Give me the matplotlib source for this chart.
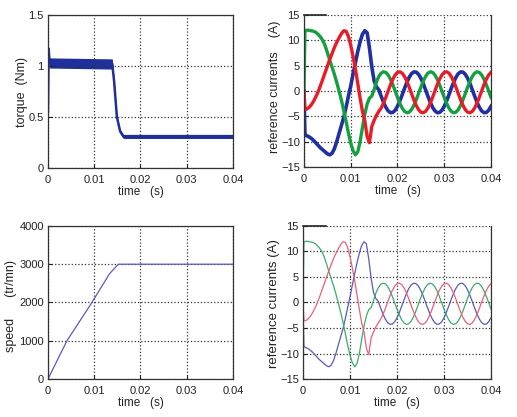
import numpy as np
import matplotlib
matplotlib.use("Agg")
import matplotlib.pyplot as plt

plt.rcParams['font.family'] = ['Liberation Sans', 'DejaVu Sans']

# Zeitachse in ms (0, 0.2, dann 0.5 ms Raster bis 40 ms)
t_ms = np.r_[0.0, 0.2, np.arange(0.5, 40.01, 0.5)]

# Referenzströme (A)
i_green = [0.0, 11.8,
           12.0, 12.0, 11.9, 11.8, 11.6, 11.2, 10.7, 10.0, 9.0, 7.6,
           6.1, 4.7, 3.3, 1.7, 0.0, -1.8, -3.8, -6.0, -8.3, -10.3,
           -11.8, -12.6, -12.0, -10.0, -7.2, -4.6, -2.6, -1.4, -1.0, 0.3, 1.8,
           2.87, 3.52, 3.79, 3.67, 3.17, 2.33, 1.24, 0.00, -1.26, -2.42,
           -3.37, -4.02, -4.29, -4.17, -3.67, -2.83, -1.74, -0.50, 0.76, 1.92,
           2.87, 3.52, 3.79, 3.67, 3.17, 2.33, 1.24, 0.00, -1.26, -2.42,
           -3.37, -4.02, -4.29, -4.17, -3.67, -2.83, -1.74, -0.50, 0.76, 1.92,
           2.87, 3.52, 3.79, 3.67, 3.17, 2.33, 1.24, 0.00, -1.26]
i_red = [0.0, -3.5,
         -3.6, -3.3, -2.8, -2.1, -1.2, -0.2, 1.0, 2.3, 3.6, 4.9,
         6.2, 7.4, 8.6, 9.6, 10.5, 11.3, 11.9, 11.8, 10.8, 9.0,
         6.8, 4.3, 1.5, -1.4, -4.0, -5.8, -9.0, -10.2, -7.0, -5.8, -4.8,
         -4.02, -3.37, -2.42, -1.26, 0.00, 1.24, 2.33, 3.17, 3.67, 3.79,
         3.52, 2.87, 1.92, 0.76, -0.50, -1.74, -2.83, -3.67, -4.17, -4.29,
         -4.02, -3.37, -2.42, -1.26, 0.00, 1.24, 2.33, 3.17, 3.67, 3.79,
         3.52, 2.87, 1.92, 0.76, -0.50, -1.74, -2.83, -3.67, -4.17, -4.29,
         -4.02, -3.37, -2.42, -1.26, 0.00, 1.24, 2.33, 3.17, 3.67]
i_blue = [0.0, -8.6,
          -8.8, -9.0, -9.3, -9.7, -10.2, -10.7, -11.2, -11.6, -12.0, -12.4,
          -12.6, -12.3, -11.4, -10.0, -8.4, -6.8, -5.2, -3.2, -1.0, 1.0,
          3.4, 5.6, 7.8, 9.7, 11.2, 11.9, 11.5, 8.5, 4.8, 2.0, 0.8,
          0.26, -1.01, -2.20, -3.20, -3.92, -4.27, -4.23, -3.80, -3.02, -1.98,
          -0.76, 0.51, 1.70, 2.70, 3.42, 3.77, 3.73, 3.30, 2.52, 1.48,
          0.26, -1.01, -2.20, -3.20, -3.92, -4.27, -4.23, -3.80, -3.02, -1.98,
          -0.76, 0.51, 1.70, 2.70, 3.42, 3.77, 3.73, 3.30, 2.52, 1.48,
          0.26, -1.01, -2.20, -3.20, -3.92, -4.27, -4.23, -3.80, -3.02]

# Drehmoment (Nm) mit Rauschband
torque_t_ms = [0.0, 0.15, 0.35, 13.9, 14.3, 14.9, 15.6, 16.3, 40.0]
torque = [0.55, 1.17, 1.03, 1.02, 0.85, 0.50, 0.36, 0.31, 0.31]
torque_band = [0.0, 0.0, 0.05, 0.05, 0.03, 0.02, 0.02, 0.02, 0.02]

# Drehzahl (tr/mn)
speed_t_ms = [0.0, 4.1, 9.5, 13.3, 15.2, 40.0]
speed = [0, 1000, 2000, 2750, 3000, 3000]

x_ticks = [0, 0.01, 0.02, 0.03, 0.04]
x_ticklabels = ["0", "0.01", "0.02", "0.03", "0.04"]

TXT = "#222222"
t = t_ms / 1000.0
fig = plt.figure(figsize=(5.17, 4.17), dpi=100)

ax_tq = fig.add_axes([0.0928, 0.597, 0.3578, 0.367])
ax_i1 = fig.add_axes([0.588, 0.5995, 0.3617, 0.3645])
ax_sp = fig.add_axes([0.0928, 0.0911, 0.3578, 0.367])
ax_i2 = fig.add_axes([0.586, 0.0911, 0.3636, 0.367])

# Drehmoment
tq_t = np.array(torque_t_ms) / 1000.0
tq = np.array(torque)
tb = np.array(torque_band)
ax_tq.fill_between(tq_t, tq - tb, tq + tb, color="#1f2f9c", lw=0)
ax_tq.plot(tq_t, tq, color="#1f2f9c", lw=1.8)
ax_tq.set_ylim(0, 1.5)
ax_tq.set_yticks([0, 0.5, 1, 1.5])
ax_tq.set_yticklabels(["0", "0.5", "1", "1.5"])
ax_tq.set_ylabel("torque  (Nm)", fontsize=9, color=TXT)
ax_tq.yaxis.set_label_coords(-0.108, 0.5)

# Ströme oben (dick)
ax_i1.plot(t, i_blue, color="#2030a0", lw=2.6)
ax_i1.plot(t, i_green, color="#14a040", lw=2.4)
ax_i1.plot(t, i_red, color="#e81c28", lw=2.4)
ax_i1.set_ylabel("reference currents    (A)", fontsize=9, color=TXT)
ax_i1.yaxis.set_label_coords(-0.125, 0.53)

# Drehzahl
ax_sp.plot(np.array(speed_t_ms) / 1000.0, speed, color="#5a5ac8", lw=0.9)
ax_sp.set_ylim(0, 4000)
ax_sp.set_yticks([0, 1000, 2000, 3000, 4000])
ax_sp.set_ylabel("speed      (tr/mn)", fontsize=9, color=TXT)
ax_sp.yaxis.set_label_coords(-0.17, 0.48)

# Ströme unten (dünn)
ax_i2.plot(t, i_blue, color="#5a5ab8", lw=0.9)
ax_i2.plot(t, i_green, color="#3caa6a", lw=0.9)
ax_i2.plot(t, i_red, color="#e8607a", lw=0.9)
ax_i2.set_ylabel("reference currents (A)", fontsize=9.5, color=TXT)
ax_i2.yaxis.set_label_coords(-0.122, 0.49)

for ax in (ax_i1, ax_i2):
    ax.set_ylim(-15, 15)
    ax.set_yticks([-15, -10, -5, 0, 5, 10, 15])
    # oberer Rand nur kurz durchgezogen, sonst gepunktet
    ax.spines["top"].set_visible(False)
    ax.axhline(15, xmin=0, xmax=0.12, color="#222222", lw=1.2, clip_on=False)

for ax in (ax_tq, ax_i1, ax_sp, ax_i2):
    ax.set_xlim(0, 0.04)
    ax.set_xticks(x_ticks)
    ax.set_xticklabels(x_ticklabels)
    ax.set_xlabel("time   (s)", fontsize=8.5, color=TXT, labelpad=1)
    ax.grid(True, linestyle=":", color="#333333", lw=0.9)
    ax.tick_params(labelsize=8, direction="in", length=3, colors=TXT, pad=3)
    ax.tick_params(axis="x", pad=5)
    for s in ax.spines.values():
        s.set_color("#333333")
        s.set_linewidth(0.9)

fig.savefig("out.png", dpi=100)
